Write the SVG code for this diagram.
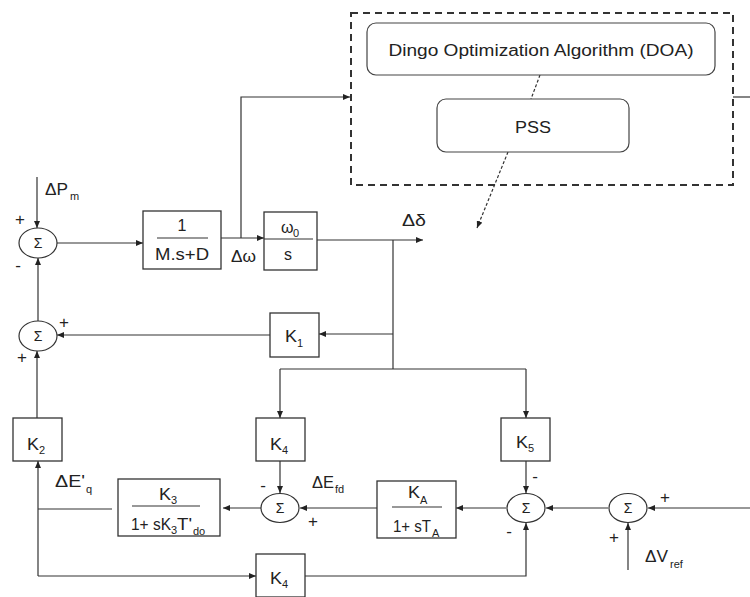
<svg xmlns="http://www.w3.org/2000/svg" width="750" height="597" viewBox="0 0 750 597">
<style>
.ln{fill:none;stroke:#333;stroke-width:1.2}
.bx{fill:#fff;stroke:#333;stroke-width:1.3}
.sm{fill:#fff;stroke:#333;stroke-width:1.2}
.rb{fill:#fff;stroke:#444;stroke-width:1.2}
.t{font-family:"Liberation Sans",Arial,sans-serif;font-size:16px;fill:#222}
.c{text-anchor:middle}
.s{font-family:"Liberation Sans",Arial,sans-serif;font-size:11px;fill:#222}
.g{font-family:"Liberation Sans",Arial,sans-serif;font-size:14px;fill:#222;text-anchor:middle}
.p{font-family:"Liberation Sans",Arial,sans-serif;font-size:17px;fill:#222;text-anchor:middle}
</style>
<defs>
<marker id="ar" markerUnits="userSpaceOnUse" markerWidth="8" markerHeight="6" refX="7" refY="3" orient="auto">
<path d="M0,0 L7,3 L0,6 z" fill="#222"/>
</marker>
</defs>
<rect width="750" height="597" fill="#fff"/>

<g id="connectors">
<path class="ln" d="M37,177 V228" marker-end="url(#ar)"/>
<path class="ln" d="M57,243 H143" marker-end="url(#ar)"/>
<path class="ln" d="M221,238 H264" marker-end="url(#ar)"/>
<path class="ln" d="M241,238 V97 H350" marker-end="url(#ar)"/>
<path class="ln" d="M317,240 H423" marker-end="url(#ar)"/>
<path class="ln" d="M508,152 L477,228" stroke-dasharray="3,2" stroke-width="1" marker-end="url(#ar)"/>
<path class="ln" d="M540,75 L531,99" stroke-dasharray="3,2" stroke-width="1"/>
<path class="ln" d="M733,97 H750"/>
<path class="ln" d="M393,240 V369"/>
<path class="ln" d="M393,334 H319" marker-end="url(#ar)"/>
<path class="ln" d="M270,335 H57" marker-end="url(#ar)"/>
<path class="ln" d="M38,321 V258" marker-end="url(#ar)"/>
<path class="ln" d="M280,369 H526"/>
<path class="ln" d="M280,369 V418" marker-end="url(#ar)"/>
<path class="ln" d="M526,369 V418" marker-end="url(#ar)"/>
<path class="ln" d="M280,461 V493" marker-end="url(#ar)"/>
<path class="ln" d="M526,461 V493" marker-end="url(#ar)"/>
<path class="ln" d="M750,508 H648" marker-end="url(#ar)"/>
<path class="ln" d="M628,570 V523" marker-end="url(#ar)"/>
<path class="ln" d="M608,508 H546" marker-end="url(#ar)"/>
<path class="ln" d="M506,508 H456" marker-end="url(#ar)"/>
<path class="ln" d="M377,508 H300" marker-end="url(#ar)"/>
<path class="ln" d="M261,508 H223" marker-end="url(#ar)"/>
<path class="ln" d="M112,509 H38"/>
<path class="ln" d="M38,576 V461" marker-end="url(#ar)"/>
<path class="ln" d="M37,418 V351" marker-end="url(#ar)"/>
<path class="ln" d="M38,576 H256" marker-end="url(#ar)"/>
<path class="ln" d="M305,576 H526 V523" marker-end="url(#ar)"/>
</g>

<g id="optimizer">
<rect x="351" y="13" width="382" height="172" fill="none" stroke="#333" stroke-width="2" stroke-dasharray="7,5"/>
</g>
<g id="doa">
<rect class="rb" x="367" y="23" width="348" height="52" rx="9"/>
<text class="t c" x="541" y="56" font-size="17" textLength="305" lengthAdjust="spacingAndGlyphs">Dingo Optimization Algorithm (DOA)</text>
</g>
<g id="pss">
<rect class="rb" x="437" y="99" width="192" height="53" rx="9"/>
<text class="t c" x="533" y="133" font-size="18" textLength="36" lengthAdjust="spacingAndGlyphs">PSS</text>
</g>

<g id="sum1">
<ellipse class="sm" cx="38" cy="243" rx="19" ry="15"/>
<text class="g" x="38" y="248">Σ</text>
<text class="p" x="20" y="225">+</text>
<text class="p" x="18" y="271">-</text>
</g>
<text class="t" x="45" y="195" textLength="23" lengthAdjust="spacingAndGlyphs">ΔP</text>
<text class="s" x="70" y="200">m</text>

<g id="box_msd">
<rect class="bx" x="143" y="211" width="78" height="58"/>
<line class="ln" x1="157" y1="238" x2="208" y2="238"/>
<text class="t c" x="182" y="231">1</text>
<text class="t c" x="182" y="260" textLength="54" lengthAdjust="spacingAndGlyphs">M.s+D</text>
</g>
<text class="t" x="231" y="262" textLength="25" lengthAdjust="spacingAndGlyphs">Δω</text>

<g id="box_w0s">
<rect class="bx" x="264" y="212" width="53" height="58"/>
<line class="ln" x1="264" y1="239" x2="313" y2="239"/>
<text class="t" x="281" y="233" font-size="14">ω</text>
<text class="s" x="293" y="237" font-size="12">0</text>
<text class="t c" x="288" y="260" font-size="17">s</text>
</g>
<text class="t" x="402" y="226" textLength="24" lengthAdjust="spacingAndGlyphs">Δδ</text>

<g id="sum2">
<ellipse class="sm" cx="38" cy="336" rx="19" ry="15"/>
<text class="g" x="38" y="341">Σ</text>
<text class="p" x="64" y="328">+</text>
<text class="p" x="22" y="363">+</text>
</g>

<g id="k1">
<rect class="bx" x="270" y="313" width="49" height="44"/>
<text class="t" x="285" y="342" textLength="12" lengthAdjust="spacingAndGlyphs">K</text>
<text class="s" x="297" y="347">1</text>
</g>

<g id="k2">
<rect class="bx" x="13" y="418" width="49" height="43"/>
<text class="t" x="27" y="450" textLength="12" lengthAdjust="spacingAndGlyphs">K</text>
<text class="s" x="39" y="454">2</text>
</g>

<g id="k4top">
<rect class="bx" x="256" y="418" width="49" height="43"/>
<text class="t" x="270" y="450" textLength="12" lengthAdjust="spacingAndGlyphs">K</text>
<text class="s" x="282" y="454">4</text>
</g>

<g id="k5">
<rect class="bx" x="501" y="418" width="49" height="43"/>
<text class="t" x="516" y="448" textLength="12" lengthAdjust="spacingAndGlyphs">K</text>
<text class="s" x="528" y="452">5</text>
<text class="p" x="535" y="482">-</text>
</g>

<text class="t" x="55" y="487" textLength="30" lengthAdjust="spacingAndGlyphs">ΔE'</text>
<text class="s" x="86" y="493">q</text>

<g id="k3box">
<rect class="bx" x="118" y="479" width="102" height="57"/>
<line class="ln" x1="132" y1="506" x2="200" y2="506"/>
<text class="t" x="159" y="500" textLength="12" lengthAdjust="spacingAndGlyphs">K</text>
<text class="s" x="171" y="504">3</text>
<text class="t" x="131" y="530" textLength="40" lengthAdjust="spacingAndGlyphs">1+ sK</text>
<text class="s" x="171" y="534">3</text>
<text class="t" x="177" y="530" textLength="15" lengthAdjust="spacingAndGlyphs">T'</text>
<text class="s" x="193" y="535">do</text>
</g>

<g id="sum3">
<ellipse class="sm" cx="280" cy="508" rx="19" ry="14.5"/>
<text class="g" x="280" y="513">Σ</text>
<text class="p" x="263" y="491">-</text>
<text class="p" x="313" y="527">+</text>
</g>
<text class="t" x="312" y="488" textLength="22" lengthAdjust="spacingAndGlyphs">ΔE</text>
<text class="s" x="335" y="493">fd</text>

<g id="kabox">
<rect class="bx" x="377" y="481" width="79" height="57"/>
<line class="ln" x1="392" y1="507" x2="442" y2="507"/>
<text class="t" x="408" y="498" textLength="12" lengthAdjust="spacingAndGlyphs">K</text>
<text class="s" x="420" y="504">A</text>
<text class="t" x="393" y="532" textLength="38" lengthAdjust="spacingAndGlyphs">1+ sT</text>
<text class="s" x="432" y="537">A</text>
</g>

<g id="sum4">
<ellipse class="sm" cx="526" cy="508" rx="19" ry="14.5"/>
<text class="g" x="526" y="513">Σ</text>
<text class="p" x="509" y="537">-</text>
</g>

<g id="sum5">
<ellipse class="sm" cx="628" cy="508" rx="19" ry="14.5"/>
<text class="g" x="628" y="513">Σ</text>
<text class="p" x="665" y="503">+</text>
<text class="p" x="614" y="543">+</text>
</g>
<text class="t" x="645" y="562" textLength="23" lengthAdjust="spacingAndGlyphs">ΔV</text>
<text class="s" x="670" y="568">ref</text>

<g id="k4bottom">
<rect class="bx" x="256" y="554" width="49" height="43"/>
<text class="t" x="270" y="584" textLength="12" lengthAdjust="spacingAndGlyphs">K</text>
<text class="s" x="282" y="588">4</text>
</g>
</svg>
